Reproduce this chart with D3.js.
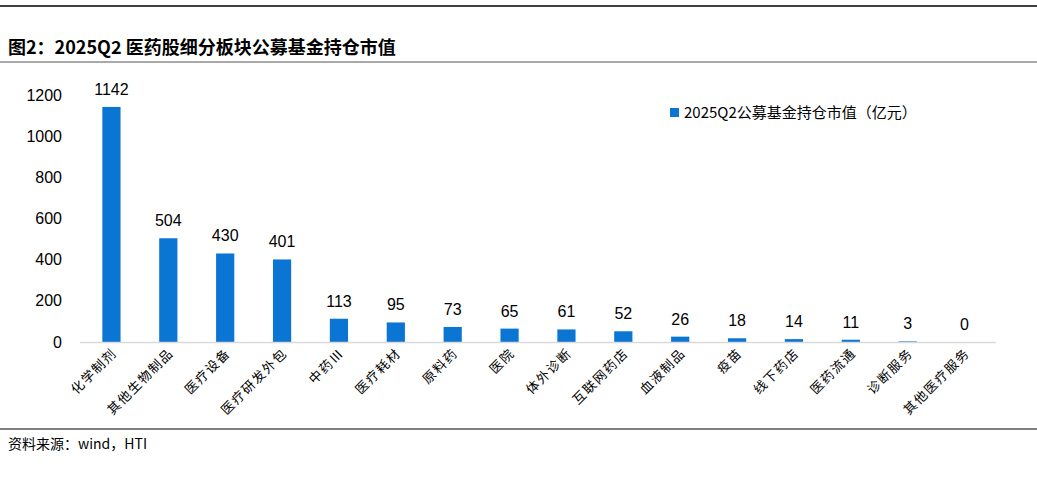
<!DOCTYPE html>
<html><head><meta charset="utf-8">
<script src="https://cdn.jsdelivr.net/npm/d3@7"></script>
<style>body{margin:0;background:#fff;}</style>
</head><body><svg id="c" width="1037" height="492"></svg>
<script>
const categories = ["化学制剂","其他生物制品","医疗设备","医疗研发外包","中药Ⅲ","医疗耗材","原料药","医院","体外诊断","互联网药店","血液制品","疫苗","线下药店","医药流通","诊断服务","其他医疗服务"];
const values = [1142,504,430,401,113,95,73,65,61,52,26,18,14,11,3,0];
const yTicks = [0,200,400,600,800,1000,1200];
const seriesName = "2025Q2公募基金持仓市值（亿元）";

const svg = d3.select("#c");
const font = "'Liberation Sans', Arial, sans-serif";
const cjk = "'Noto Sans CJK SC', sans-serif";
const BLUE = "#0b75d3";

// frame lines and title
svg.append("line").attr("x1",0).attr("x2",1037).attr("y1",6).attr("y2",6).attr("stroke","#000").attr("stroke-width",1.5);
svg.append("text").attr("x",8).attr("y",54).attr("font-family",cjk).attr("font-weight","bold")
  .attr("font-size",18).text("图2：2025Q2 医药股细分板块公募基金持仓市值");
svg.append("line").attr("x1",0).attr("x2",1037).attr("y1",62).attr("y2",62).attr("stroke","#555").attr("stroke-width",1);
svg.append("line").attr("x1",0).attr("x2",1037).attr("y1",429).attr("y2",429).attr("stroke","#555").attr("stroke-width",1.5);
svg.append("text").attr("x",8).attr("y",449).attr("font-family",cjk).attr("font-size",14).text("资料来源：wind，HTI");

const x = d3.scaleBand().domain(categories).range([83,993]).paddingInner(0.68).paddingOuter(0.34);
const y = d3.scaleLinear().domain([0,1200]).range([342,95]);

svg.append("g")
  .call(d3.axisLeft(y).tickValues(yTicks).tickFormat(d3.format("d")).tickSize(0).tickPadding(0))
  .call(g=>g.select(".domain").remove())
  .call(g=>g.selectAll("text").attr("x",62).attr("font-family",font).attr("font-size",16).attr("fill","#000"));

svg.selectAll("rect.bar").data(values).join("rect").attr("class","bar")
  .attr("x",(d,i)=>x(categories[i])).attr("width",x.bandwidth())
  .attr("y",d=>y(d)).attr("height",d=>y(0)-y(d)).attr("fill",BLUE);

svg.append("line").attr("x1",80).attr("x2",996).attr("y1",342.5).attr("y2",342.5).attr("stroke","#d9d9d9").attr("stroke-width",1.5);

svg.selectAll("text.val").data(values).join("text").attr("class","val")
  .attr("x",(d,i)=>x(categories[i])+x.bandwidth()/2).attr("y",d=>y(d)-12)
  .attr("text-anchor","middle").attr("font-family",font).attr("font-size",16).text(d=>d);

svg.selectAll("text.cat").data(categories).join("text").attr("class","cat")
  .attr("transform",d=>`translate(${x(d)+x.bandwidth()/2+6},${354}) rotate(-45)`)
  .attr("text-anchor","end").attr("font-family",cjk).attr("font-size",13).attr("letter-spacing",1.5).text(d=>d);

svg.append("rect").attr("x",670).attr("y",108).attr("width",9).attr("height",9).attr("fill",BLUE);
svg.append("text").attr("x",684).attr("y",118).attr("font-family",cjk).attr("font-size",15).text(seriesName);
</script></body></html>
